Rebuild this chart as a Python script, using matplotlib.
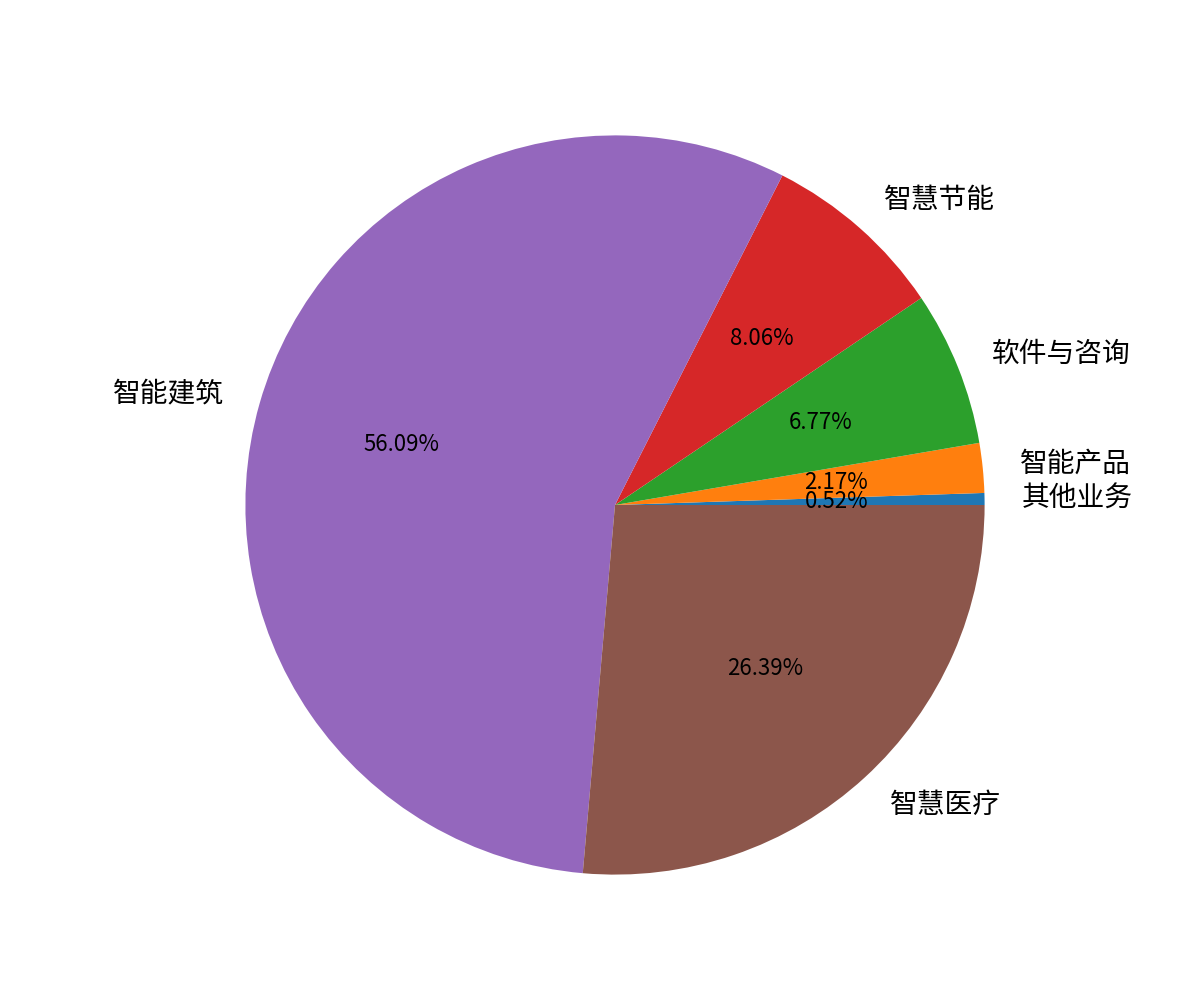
import matplotlib
matplotlib.use('Agg')
import matplotlib.pyplot as plt

plt.rcParams['font.family'] = ['Noto Sans CJK SC', 'DejaVu Sans']

labels = ['其他业务', '智能产品', '软件与咨询', '智慧节能', '智能建筑', '智慧医疗']
shares = [0.52, 2.17, 6.77, 8.06, 56.09, 26.39]

fig = plt.figure(figsize=(12, 10), dpi=100)
ax = plt.subplot()
wedges, texts, autotexts = ax.pie(shares, labels=labels, autopct='%.2f%%', radius=1.2,
                                  textprops={'fontsize': 20})
for t in autotexts:
    t.set_fontsize(16)

plt.savefig('out.png')
